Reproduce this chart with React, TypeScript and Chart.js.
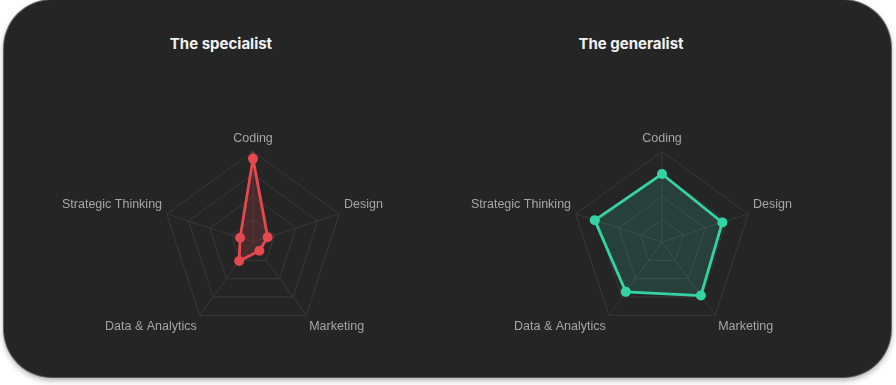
import React, { useEffect, useRef } from "react";
import { Chart, registerables } from "chart.js";

Chart.register(...registerables);

const skills = ["Coding", "Design", "Marketing", "Data & Analytics", "Strategic Thinking"];
const specialistValues = [92, 17, 12, 26, 15];
const generalistValues = [75, 70, 73, 68, 78];
const scaleMax = 100;
const scaleStep = 25;

type RadarProps = {
  values: number[];
  color: string;
  fill: string;
  left: number;
};

function Radar({ values, color, fill, left }: RadarProps) {
  const ref = useRef<HTMLCanvasElement | null>(null);
  useEffect(() => {
    if (!ref.current) return;
    const chart = new Chart(ref.current, {
      type: "radar",
      data: {
        labels: skills,
        datasets: [
          {
            data: values,
            borderColor: color,
            backgroundColor: fill,
            borderWidth: 2.8,
            pointBackgroundColor: color,
            pointBorderColor: color,
            pointRadius: 5,
            pointBorderWidth: 0,
            fill: true,
          },
        ],
      },
      options: {
        animation: false,
        responsive: false,
        maintainAspectRatio: false,
        plugins: { legend: { display: false }, tooltip: { enabled: false }, title: { display: false } },
        layout: { padding: 0 },
        scales: {
          r: {
            min: 0,
            max: scaleMax,
            ticks: { display: false, stepSize: scaleStep },
            grid: { color: "#393939", lineWidth: 1 },
            angleLines: { color: "#393939", lineWidth: 1 },
            pointLabels: {
              color: "#a6a6a6",
              font: { size: 12.5, family: "'Liberation Sans', Arial, sans-serif" },
              padding: 5,
            },
          },
        },
      },
    });
    return () => chart.destroy();
  }, [values, color, fill]);
  return (
    <canvas
      ref={ref}
      width={382}
      height={300}
      style={{ position: "absolute", left, top: 82, width: 382, height: 300 }}
    />
  );
}

const titleStyle: React.CSSProperties = {
  position: "absolute",
  top: 35,
  width: 200,
  textAlign: "center",
  fontFamily: "Inter, 'Noto Sans', sans-serif",
  fontWeight: 700,
  fontSize: 15,
  lineHeight: "18px",
  color: "#f1f1f1",
};

export default function App() {
  return (
    <div style={{ position: "fixed", inset: 0, background: "#ffffff", overflow: "hidden" }}>
      <div
        style={{
          position: "absolute",
          left: 4,
          top: 0,
          width: 887,
          height: 377,
          background: "#252525",
          borderRadius: 48,
          overflow: "hidden",
          boxShadow: "0 0 0 1px rgba(0,0,0,0.55), 0 3px 6px rgba(0,0,0,0.35)",
        }}
      >
        <div style={{ ...titleStyle, left: 221 - 4 - 100 }}>The specialist</div>
        <div style={{ ...titleStyle, left: 631 - 4 - 100 }}>The generalist</div>
        <Radar values={specialistValues} color="#e5484d" fill="rgba(229,72,77,0.18)" left={33 - 4} />
        <Radar values={generalistValues} color="#34d3a6" fill="rgba(52,211,166,0.16)" left={442 - 4} />
      </div>
    </div>
  );
}
